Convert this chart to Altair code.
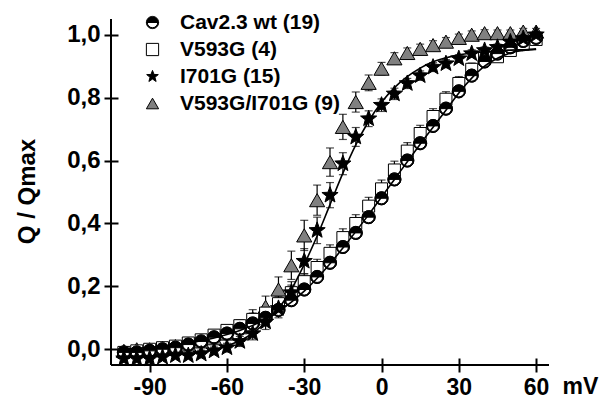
import altair as alt
import pandas as pd

FONT = "Liberation Sans"

voltages = [-100, -95, -90, -85, -80, -75, -70, -65, -60, -55, -50, -45, -40, -35, -30, -25,
            -20, -15, -10, -5, 0, 5, 10, 15, 20, 25, 30, 35, 40, 45, 50, 55, 60]

series_names = ["Cav2.3 wt (19)", "V593G (4)", "I701G (15)", "V593G/I701G (9)"]

wt = [-0.01, -0.01, -0.005, 0.0, 0.005, 0.015, 0.025, 0.038, 0.05, 0.065, 0.082, 0.10, 0.125,
      0.156, 0.19, 0.23, 0.275, 0.325, 0.37, 0.42, 0.48, 0.54, 0.60, 0.655, 0.71, 0.765, 0.82,
      0.87, 0.915, 0.94, 0.96, 0.98, 0.99]
wt_err = [0.008, 0.008, 0.008, 0.008, 0.008, 0.008, 0.008, 0.008, 0.009, 0.009, 0.01, 0.01, 0.011,
          0.012, 0.012, 0.013, 0.013, 0.014, 0.014, 0.014, 0.014, 0.014, 0.014, 0.013, 0.013, 0.012,
          0.012, 0.011, 0.01, 0.01, 0.009, 0.008, 0.008]

v593g = [-0.01, -0.005, 0.0, 0.005, 0.01, 0.02, 0.03, 0.045, 0.06, 0.075, 0.095, 0.115, 0.145,
         0.18, 0.215, 0.26, 0.305, 0.355, 0.40, 0.455, 0.51, 0.57, 0.63, 0.686, 0.74, 0.795, 0.845,
         0.89, 0.925, 0.93, 0.95, 0.97, 0.985]
v593g_err = [0.01, 0.01, 0.01, 0.01, 0.01, 0.012, 0.012, 0.015, 0.015, 0.018, 0.02, 0.02, 0.022,
             0.024, 0.025, 0.026, 0.027, 0.028, 0.028, 0.028, 0.028, 0.028, 0.027, 0.026, 0.025,
             0.024, 0.022, 0.02, 0.018, 0.015, 0.012, 0.01, 0.01]

i701g = [-0.03, -0.03, -0.03, -0.025, -0.02, -0.02, -0.015, -0.005, 0.005, 0.025, 0.05, 0.087,
         0.13, 0.18, 0.28, 0.378, 0.49, 0.59, 0.675, 0.733, 0.776, 0.812, 0.845, 0.87, 0.897,
         0.908, 0.924, 0.94, 0.95, 0.96, 0.977, 0.988, 1.0]
i701g_err = [0.01, 0.01, 0.01, 0.01, 0.01, 0.01, 0.012, 0.012, 0.014, 0.016, 0.02, 0.024, 0.03,
             0.035, 0.04, 0.042, 0.04, 0.035, 0.03, 0.025, 0.02, 0.018, 0.016, 0.015, 0.014,
             0.013, 0.012, 0.012, 0.011, 0.01, 0.01, 0.01, 0.01]

double = [-0.005, 0.0, 0.0, 0.005, 0.01, 0.015, 0.025, 0.035, 0.05, 0.07, 0.098, 0.135, 0.19,
          0.267, 0.362, 0.474, 0.595, 0.707, 0.786, 0.847, 0.892, 0.925, 0.942, 0.955, 0.967,
          0.978, 0.99, 1.0, 1.005, 1.005, 1.005, 1.01, 1.01]
double_err = [0.01, 0.01, 0.01, 0.01, 0.01, 0.012, 0.014, 0.016, 0.018, 0.022, 0.028, 0.034, 0.04,
              0.045, 0.048, 0.048, 0.045, 0.04, 0.032, 0.025, 0.02, 0.018, 0.016, 0.015, 0.014,
              0.013, 0.012, 0.012, 0.011, 0.01, 0.01, 0.01, 0.01]

# Boltzmann fit curves
wt_fit = [0.0, 0.003, 0.006, 0.01, 0.015, 0.02, 0.027, 0.036, 0.047, 0.06, 0.076, 0.096, 0.12,
          0.15, 0.185, 0.226, 0.272, 0.322, 0.374, 0.428, 0.484, 0.54, 0.596, 0.652, 0.706,
          0.76, 0.815, 0.862, 0.90, 0.925, 0.942, 0.95, 0.955]
i701g_fit = [-0.024, -0.023, -0.022, -0.02, -0.018, -0.014, -0.009, -0.001, 0.011, 0.027, 0.051,
             0.086, 0.129, 0.19, 0.27, 0.36, 0.46, 0.56, 0.65, 0.725, 0.785, 0.832, 0.867, 0.894,
             0.914, 0.927, 0.936, 0.942, 0.946, 0.949, 0.951, 0.952, 0.953]

marker_sizes = {series_names[0]: 169, series_names[1]: 144, series_names[2]: 289,
                series_names[3]: 230}

rows = []
for name, vals, errs in [(series_names[3], double, double_err),
                         (series_names[1], v593g, v593g_err),
                         (series_names[0], wt, wt_err),
                         (series_names[2], i701g, i701g_err)]:
    for v, q, e in zip(voltages, vals, errs):
        rows.append({"series": name, "mV": v, "q": q, "lo": q - e, "hi": q + e})
df = pd.DataFrame(rows)

fit_rows = []
for name, vals in [("wt fit", wt_fit), ("I701G fit", i701g_fit)]:
    for v, q in zip(voltages, vals):
        fit_rows.append({"fit": name, "mV": v, "q": q})
fit_df = pd.DataFrame(fit_rows)

half_circle = ("M-1,0 A1,1 0 0,1 1,0 Z "
               "M1,0 A1,1 0 0,1 -1,0 L-0.85,0 A0.85,0.85 0 0,0 0.85,0 Z")
star = ("M0,-1 L0.247,-0.34 L0.951,-0.309 L0.399,0.13 L0.588,0.809 L0,0.42 "
        "L-0.588,0.809 L-0.399,0.13 L-0.951,-0.309 L-0.247,-0.34 Z")

xscale = alt.Scale(domain=[-105, 65], nice=False, zero=False)
yscale = alt.Scale(domain=[-0.05, 1.05], nice=False, zero=False)

xaxis = alt.Axis(values=[-90, -60, -30, 0, 30, 60], labelExpr="'' + datum.value",
                 title="mV", titleX=451, titleY=35, titleAlign="left", titleBaseline="alphabetic",
                 titleAngle=0, offset=-7, tickSize=14, tickWidth=2, tickColor="black",
                 domain=False, grid=False, labelFont=FONT, labelFontSize=23,
                 labelFontWeight="bold", labelColor="black", labelPadding=4, labelFlush=False,
                 titleFont=FONT, titleFontSize=23, titleFontWeight="bold", titleColor="black")
yaxis = alt.Axis(values=[0, 0.2, 0.4, 0.6, 0.8, 1.0],
                 labelExpr="replace(format(datum.value, '.1f'), '.', ',')",
                 title="Q / Qmax", titleX=-84, titleY=172, titleAngle=-90, titleAlign="center",
                 titleBaseline="alphabetic", offset=-7, tickSize=14, tickWidth=2,
                 tickColor="black", domain=False, grid=False, labelFont=FONT, labelFontSize=24,
                 labelFontWeight="bold", labelColor="black", labelPadding=4, labelFlush=False,
                 titleFont=FONT, titleFontSize=24, titleFontWeight="bold", titleColor="black")

legend = alt.Legend(orient="none", legendX=31, legendY=-7, title=None, labelFont=FONT,
                    labelFontSize=21, labelFontWeight="bold", labelColor="black", symbolSize=150,
                    labelOffset=17, rowPadding=5, symbolStrokeWidth=1, padding=0)

shape_scale = alt.Scale(domain=series_names,
                        range=[half_circle, "square", star, "triangle-up"])
fill_scale = alt.Scale(domain=series_names, range=["black", "white", "black", "#808080"])
stroke_scale = alt.Scale(domain=series_names, range=["black", "black", "black", "black"])


def X(field):
    return alt.X(field, type="quantitative", scale=xscale, axis=xaxis, title="mV")


def Y(field):
    return alt.Y(field, type="quantitative", scale=yscale, axis=yaxis, title="Q / Qmax")


base = alt.Chart(df)

err_rule = base.mark_rule(color="black", strokeWidth=1.2).encode(
    x=X("mV"), y=Y("lo"), y2="hi:Q")
cap_lo = base.mark_tick(orient="horizontal", size=8, thickness=1.2, color="black").encode(
    x=X("mV"), y=Y("lo"))
cap_hi = base.mark_tick(orient="horizontal", size=8, thickness=1.2, color="black").encode(
    x=X("mV"), y=Y("hi"))


def series_layer(name):
    return base.transform_filter(alt.datum.series == name).mark_point(
        filled=True, strokeWidth=1, opacity=1, size=marker_sizes[name]
    ).encode(
        x=X("mV"), y=Y("q"),
        shape=alt.Shape("series:N", scale=shape_scale, legend=legend),
        fill=alt.Fill("series:N", scale=fill_scale, legend=legend),
        stroke=alt.Stroke("series:N", scale=stroke_scale, legend=legend),
    )


wt_white = base.transform_filter(alt.datum.series == series_names[0]).mark_point(
    shape="circle", filled=True, fill="white", stroke="black", strokeWidth=1, size=169,
    opacity=1).encode(x=X("mV"), y=Y("q"))

fits = alt.Chart(fit_df).mark_line(color="black", strokeWidth=1.6, interpolate="monotone").encode(
    x=X("mV"), y=Y("q"), detail="fit:N")

frame_df = pd.DataFrame({"x0": [-105], "x1": [65], "y0": [-0.05], "y1": [1.05]})
y_line = alt.Chart(frame_df).mark_rule(color="black", strokeWidth=2).encode(
    x=X("x0"), y=Y("y0"), y2="y1:Q")
x_line = alt.Chart(frame_df).mark_rule(color="black", strokeWidth=2).encode(
    x=X("x0"), x2="x1:Q", y=Y("y0"))

chart = alt.layer(
    err_rule, cap_lo, cap_hi,
    series_layer(series_names[3]), series_layer(series_names[1]),
    wt_white, series_layer(series_names[0]), series_layer(series_names[2]),
    fits, y_line, x_line
).properties(
    width=438, height=346,
    padding={"left": 111, "top": 19, "right": 56, "bottom": 33},
    autosize=alt.AutoSizeParams(type="none"),
    background="white",
).configure_view(stroke=None)

chart.save("out.html", embed_options={"renderer": "svg", "actions": False})
